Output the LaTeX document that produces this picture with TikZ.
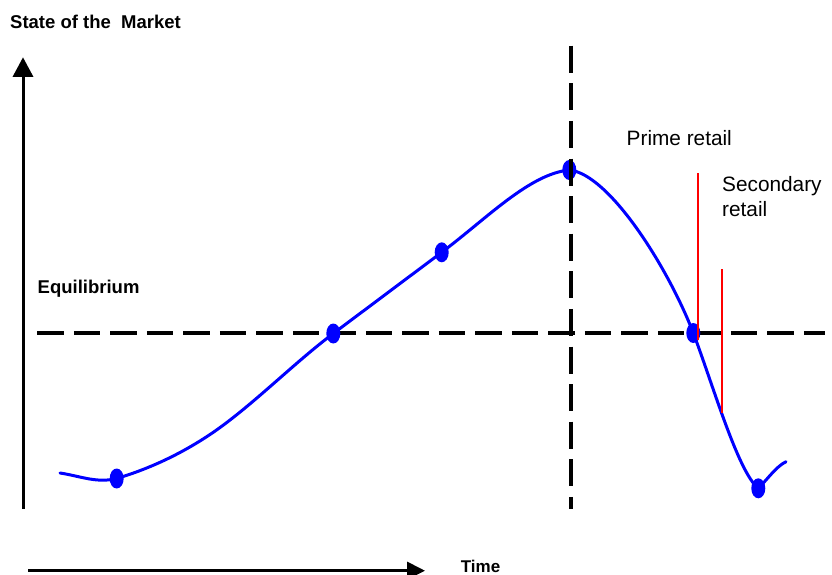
\documentclass[tikz,border=0pt]{standalone}
\usepackage{fontspec}
\setmainfont{Liberation Sans}
\usetikzlibrary{arrows.meta,shapes.geometric}
\definecolor{mkred}{RGB}{255,0,0}
\definecolor{mkblue}{RGB}{0,0,255}
\begin{document}
\begin{tikzpicture}[x=1pt,y=-1pt,
  axisline/.style={line width=3pt},
  eqline/.style={line width=4.2pt, dash pattern=on 26.5pt off 10pt},
  curveline/.style={draw=mkblue, line width=3pt},
  dotnode/.style={ellipse, fill=mkblue, draw=none, inner sep=0pt, minimum width=14pt, minimum height=20pt},
  redline/.style={color=mkred, draw=mkred, line width=2pt},
  boldlbl/.style={inner sep=0pt, anchor=base west, font=\fontsize{18.5}{22}\selectfont\bfseries},
  reglbl/.style={inner sep=0pt, anchor=base west, align=left, font=\fontsize{20.8}{25}\selectfont}]
\useasboundingbox (0,0) rectangle (832,575);

% labels
\node[boldlbl] (title) at (10,28.3) {State of the\ \ Market};
\node[boldlbl] (eq) at (37.5,293.3) {Equilibrium};
\node[boldlbl, font=\fontsize{17}{20}\selectfont\bfseries] (time) at (460.7,572.5) {Time};
\node[reglbl] (prime) at (626.5,146) {Prime retail};
\node[reglbl] (second) at (722,216) {Secondary\\retail};

% axes
\coordinate (ybot) at (23,508.5);
\coordinate (ytop) at (23,57.3);
\coordinate (xl) at (28.3,570.7);
\coordinate (xr) at (425,570.7);
\draw[axisline, -{Triangle[length=19.5pt,width=20pt]}] (ybot) -- (ytop);
\draw[axisline, -{Triangle[length=18pt,width=17.5pt]}] (xl) -- (xr);

% equilibrium dashed line
\coordinate (hl) at (37.3,333.3);
\coordinate (hr) at (825,333.3);
\draw[eqline] (hl) -- (hr);

% curve
\coordinate (s) at (60,473);
\coordinate (p1) at (116.7,478.5);
\coordinate (a1) at (206.7,436.7);
\coordinate (p2) at (333.3,333.5);
\coordinate (p3) at (441.7,252.3);
\coordinate (p4) at (569.3,170);
\coordinate (p5) at (693.3,333);
\coordinate (p6) at (758.3,488.3);
\coordinate (e) at (786,461.7);
\draw[curveline, line join=round, line cap=round]
  (s) .. controls (80,476) and (96.7,483.5) .. (p1)
      .. controls (146.7,469.5) and (176.7,456.2) .. (a1)
      .. controls (248.7,409.4) and (291.3,365) .. (p2)
      .. controls (369.3,306.5) and (405.7,279.3) .. (p3)
      .. controls (486.7,218.6) and (529.3,174) .. (p4)
      .. controls (609.3,174) and (668.3,268) .. (p5)
      .. controls (713,385) and (738,472) .. (p6)
      .. controls (768.3,478.3) and (776,466.7) .. (e);

\foreach \p in {p1,p2,p3,p4,p5,p6}
  \node[dotnode] (d\p) at (\p) {};

% vertical dashed line
\coordinate (vt) at (570.7,45.7);
\coordinate (vb) at (570.7,509);
\draw[eqline, dash pattern=on 27pt off 10.6pt] (vt) -- (vb);

% red markers
\coordinate (r1t) at (697.5,173);
\coordinate (r1b) at (697.5,340);
\coordinate (r2t) at (721.5,269);
\coordinate (r2b) at (721.5,413);
\draw[redline] (r1t) -- (r1b);
\draw[redline] (r2t) -- (r2b);
\end{tikzpicture}
\end{document}
